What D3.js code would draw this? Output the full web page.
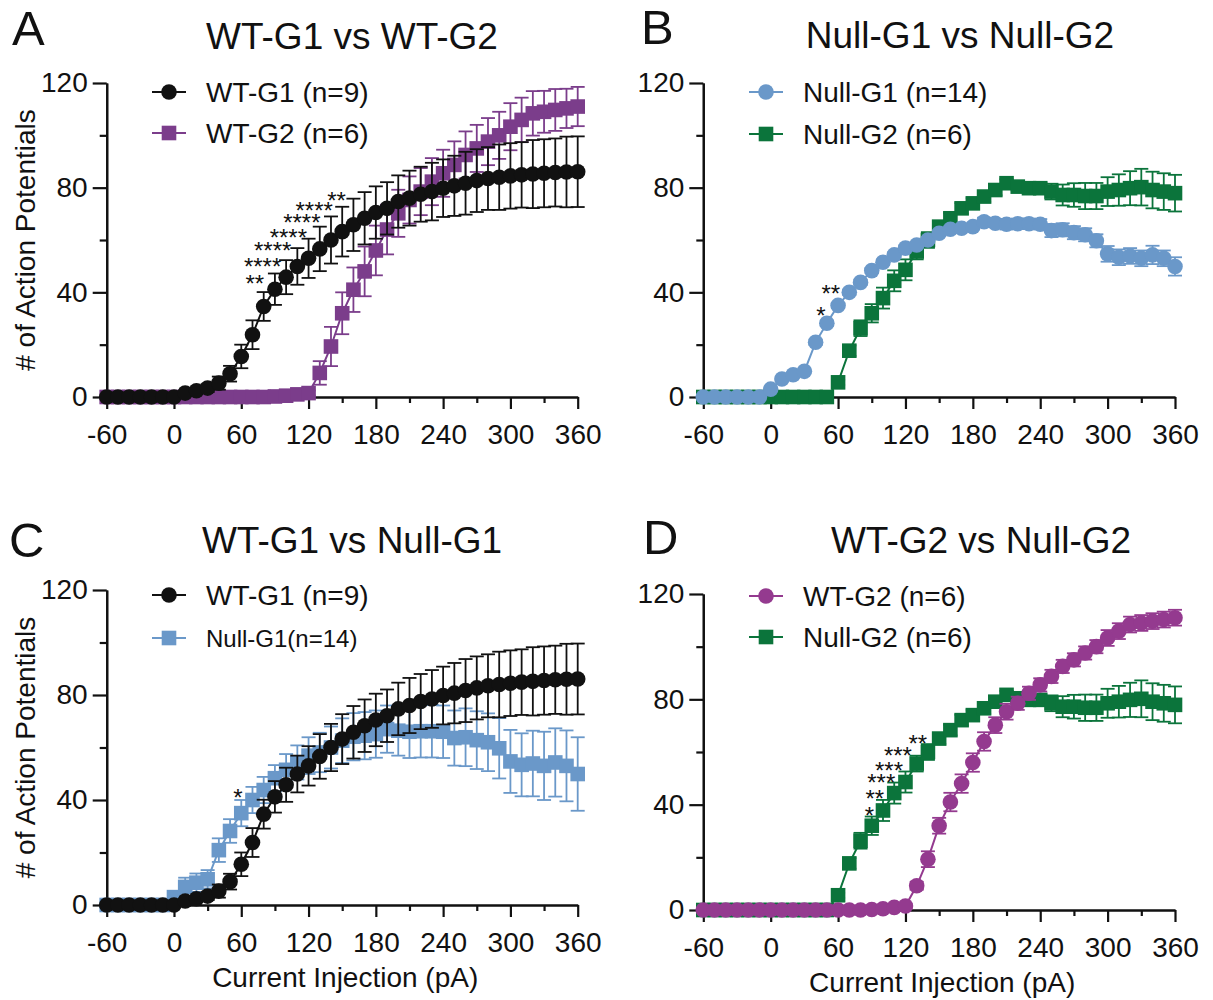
<!DOCTYPE html>
<html>
<head>
<meta charset="utf-8">
<style>
body { margin: 0; background: #fff; }
svg text { font-family: "Liberation Sans", Arial, sans-serif; fill: #111; }
</style>
<title>Action potentials vs current injection</title>
</head>
<body>
<svg width="1213" height="1000"></svg>
<script src="https://d3js.org/d3.v7.min.js"></script>
<script>
// x categories (pA) and axis ticks
var currents = [-60,-50,-40,-30,-20,-10,0,10,20,30,40,50,60,70,80,90,100,110,120,130,140,150,160,170,180,190,200,210,220,230,240,250,260,270,280,290,300,310,320,330,340,350,360];
var xTicks = [-60,0,60,120,180,240,300,360];
var xMinorTicks = [-30,30,90,150,210,270,330];
var yTicks = [0,40,80,120];
var yMinorTicks = [20,60,100];

// WT-G1 (n=9)
var wtG1Mean = [0,0,0,0,0,0,0,1.5,2.4,3.4,5.3,8.9,15.5,23.8,34.6,41.2,45.8,49.9,53,56.6,60,63.2,65.8,68.3,70.5,72.1,74.7,76,77.5,78.5,79.8,80.7,81.7,82.7,83.5,84,84.5,84.9,85.2,85.5,85.8,86,86.1];
var wtG1Sem  = [0,0,0,0,0,0,0,0.5,1,1.5,2.5,3,4.5,5.5,5.5,6,6.5,7,7.5,8.5,9,9.5,10,10,10,10,10,10.5,10.5,11,11,11.5,12,12,12,12.5,12.5,12.5,13,13,13,13.5,13.5];

// WT-G2 (n=6)
var wtG2Mean  = [0,0,0,0,0,0,0,0,0,0,0,0,0,0,0,0.2,0.5,1,1.5,9.2,19.3,32,41,48,56,64,70.2,75.3,78.5,82.3,85.5,88.7,92.5,95,97.6,100,103.3,105.9,108.4,109,109.7,110.3,111];
var wtG2SemA  = [0,0,0,0,0,0,0,0,0,0,0,0,0,0,0,0.2,0.3,0.5,1,4.5,7.5,8,8.5,9.5,9.5,9.5,9,9,9,9,9,9,9,9,9,9,9,8.5,8.5,8,8,7.5,7.5];
var wtG2SemD  = [0,0,0,0,0,0,0,0,0,0,0,0,0,0,0,0.2,0.3,0.5,0.8,1.5,3,3,3.5,3.5,3.5,3.5,3,3,2.5,2.5,2.5,2.5,2.5,2.5,2.5,2.5,3,3,3,3,3,3,3];

// Null-G1 (n=14)
var nullG1Mean = [0,0,0,0,0,0,3,6.9,8.5,9.8,20.9,28.2,35,40,43.8,48.3,51.5,54.3,56.9,58.1,60,62.6,64.1,64.5,65.1,67,66.4,66,66.2,66.2,66,63.6,63.9,62.8,62,59.7,54.7,53.4,53.9,53,54.3,53,49.9];
var nullG1SemB = [0,0,0,0,0,0,0.5,0.5,0.5,0.5,1,1,1,1,1,1,1,1,1,1,1,1,1,1,1,1.5,1.5,2,2,2,2,2.5,2.5,2.5,2.5,2.5,3,3,3,3,3.5,3,3.5];
var nullG1SemC = [0,0,0,0,0,0,2,3.5,3.5,3.5,4.5,4.5,5,5,5,5,6,6.5,7,7.5,8,8.5,9,9,9,9,9.5,10,10,10,10,10.5,11,11,11,11.5,12,12,12.5,13,13,13.5,14];

// Null-G2 (n=6)
var nullG2Mean = [0,0,0,0,0,0,0,0,0,0,0,0,5.6,17.7,26.3,32,37.8,44.4,48.6,55.6,60,65.1,68.3,72.1,74,76.6,79.1,81.7,80.4,79.8,79.8,78.5,77.2,77.2,76.8,76.8,78.5,79.1,79.8,80.2,79.1,78.5,77.9];
var nullG2Sem  = [0,0,0,0,0,0,0,0,0,0,0,0,1,2,3,3.5,4,4,4,3,3,2,2,2,2,2,2,1.5,1.5,2,2,3,4,4.5,5,5,5.5,6,6.5,7,7,7,7];

// significance marks (current, count, label)
var starsA = [[72,45.4,"**"],[79,51.8,"****"],[88,58.1,"****"],[102,63.2,"****"],[114,68.6,"****"],[125,73.2,"****"],[145,77.2,"**"]];
var starsB = [[53.5,41.6,"**"],[44.7,33.3,"*"]];
var starsC = [[57,43.2,"*"]];
var starsD = [[88,38.1,"*"],[92.7,44.4,"**"],[98.5,50.5,"***"],[105.4,55.2,"***"],[113.3,60.7,"***"],[131,65.4,"**"]];

var black = "#111111", purpleA = "#7b3d8b", purpleD = "#943a8f", blue = "#6a98c9", green = "#0b743b";

var svg = d3.select("svg");

var panels = [
  { letter: "A", lx: 12, ly: 45, title: "WT-G1 vs WT-G2", tx: 352, ty: 49,
    left: 106.7, right: 577.7, top: 83, bottom: 397, yTitle: true, xTitle: false,
    series: [
      { name: "WT-G2 (n=6)", mean: wtG2Mean, sem: wtG2SemA, color: purpleA, shape: "square" },
      { name: "WT-G1 (n=9)", mean: wtG1Mean, sem: wtG1Sem, color: black, shape: "circle" }
    ],
    legend: [1, 0], legX: 169, legY: [92, 133], legSize: [28, 28], stars: starsA },
  { letter: "B", lx: 641, ly: 44, title: "Null-G1 vs Null-G2", tx: 960, ty: 48,
    left: 703.3, right: 1175, top: 83, bottom: 397, yTitle: false, xTitle: false,
    series: [
      { name: "Null-G2 (n=6)", mean: nullG2Mean, sem: nullG2Sem, color: green, shape: "square" },
      { name: "Null-G1 (n=14)", mean: nullG1Mean, sem: nullG1SemB, color: blue, shape: "circle" }
    ],
    legend: [1, 0], legX: 766, legY: [92, 134], legSize: [28, 28], stars: starsB },
  { letter: "C", lx: 9, ly: 557, title: "WT-G1 vs Null-G1", tx: 352, ty: 553,
    left: 106.7, right: 577.7, top: 590, bottom: 905, yTitle: true, xTitle: true,
    series: [
      { name: "Null-G1(n=14)", mean: nullG1Mean, sem: nullG1SemC, color: blue, shape: "square" },
      { name: "WT-G1 (n=9)", mean: wtG1Mean, sem: wtG1Sem, color: black, shape: "circle" }
    ],
    legend: [1, 0], legX: 169, legY: [595, 638], legSize: [28, 24], stars: starsC },
  { letter: "D", lx: 643, ly: 554, title: "WT-G2 vs Null-G2", tx: 981, ty: 553,
    left: 703.3, right: 1175, top: 594, bottom: 910, yTitle: false, xTitle: true,
    series: [
      { name: "Null-G2 (n=6)", mean: nullG2Mean, sem: nullG2Sem, color: green, shape: "square" },
      { name: "WT-G2 (n=6)", mean: wtG2Mean, sem: wtG2SemD, color: purpleD, shape: "circle" }
    ],
    legend: [1, 0], legX: 766, legY: [596, 637], legSize: [28, 28], stars: starsD }
];

function marker(sel, shape, color) {
  if (shape === "circle") {
    sel.append("circle").attr("r", 7.8).attr("fill", color);
  } else {
    sel.append("rect").attr("x", -7.3).attr("y", -7.3).attr("width", 14.6).attr("height", 14.6).attr("fill", color);
  }
}

// plain hyphen for negatives, like the original figure
var plain = function(d) { return String(d); };

panels.forEach(function(p) {
  var x = d3.scaleLinear().domain([-60, 360]).range([p.left, p.right]);
  var y = d3.scaleLinear().domain([0, 120]).range([p.bottom, p.top]);
  var g = svg.append("g");

  g.append("text").attr("x", p.lx).attr("y", p.ly).attr("font-size", 49).text(p.letter);
  g.append("text").attr("x", p.tx).attr("y", p.ty).attr("text-anchor", "middle")
    .attr("font-size", 37).text(p.title);

  // axes: minor ticks first, then major with labels
  g.append("g").attr("transform", "translate(0," + p.bottom + ")")
    .call(d3.axisBottom(x).tickValues(xMinorTicks).tickSize(6).tickSizeOuter(0).tickFormat(""));
  g.append("g").attr("transform", "translate(" + p.left + ",0)")
    .call(d3.axisLeft(y).tickValues(yMinorTicks).tickSize(7).tickSizeOuter(0).tickFormat(""));
  var xa = g.append("g").attr("transform", "translate(0," + p.bottom + ")")
    .call(d3.axisBottom(x).tickValues(xTicks).tickSize(12).tickSizeOuter(0).tickPadding(15).tickFormat(plain));
  var ya = g.append("g").attr("transform", "translate(" + p.left + ",0)")
    .call(d3.axisLeft(y).tickValues(yTicks).tickSize(14).tickSizeOuter(0).tickPadding(5).tickFormat(plain));
  [xa, ya].forEach(function(a) {
    a.attr("font-size", 28).attr("font-family", null);
    a.selectAll("text").attr("fill", "#111");
  });
  g.selectAll(".domain, .tick line").attr("stroke", "#111").attr("stroke-width", 2.2);

  if (p.yTitle) {
    g.append("text").attr("transform", "translate(35," + (p.top + p.bottom) / 2 + ") rotate(-90)")
      .attr("text-anchor", "middle").attr("font-size", 28).text("# of Action Potentials");
  }
  if (p.xTitle) {
    g.append("text").attr("x", (p.left + p.right) / 2 + 3).attr("y", p.bottom + 82)
      .attr("text-anchor", "middle").attr("font-size", 28).text("Current Injection (pA)");
  }

  // data series: error bars, connecting line, markers
  p.series.forEach(function(s) {
    var pts = currents.map(function(c, i) { return { x: c, m: s.mean[i], e: s.sem[i] }; });
    var sg = g.append("g");
    var eb = sg.selectAll("g.eb").data(pts.filter(function(d) { return d.e > 0; }))
      .enter().append("g").attr("class", "eb")
      .attr("stroke", s.color).attr("stroke-width", 1.8);
    eb.append("line")
      .attr("x1", function(d) { return x(d.x); }).attr("x2", function(d) { return x(d.x); })
      .attr("y1", function(d) { return y(d.m - d.e); }).attr("y2", function(d) { return y(d.m + d.e); });
    [1, -1].forEach(function(sign) {
      eb.append("line")
        .attr("x1", function(d) { return x(d.x) - 7; }).attr("x2", function(d) { return x(d.x) + 7; })
        .attr("y1", function(d) { return y(d.m + sign * d.e); }).attr("y2", function(d) { return y(d.m + sign * d.e); });
    });
    sg.append("path").datum(pts)
      .attr("fill", "none").attr("stroke", s.color).attr("stroke-width", 2)
      .attr("d", d3.line().x(function(d) { return x(d.x); }).y(function(d) { return y(d.m); }));
    var mk = sg.selectAll("g.mk").data(pts).enter().append("g").attr("class", "mk")
      .attr("transform", function(d) { return "translate(" + x(d.x) + "," + y(d.m) + ")"; });
    marker(mk, s.shape, s.color);
  });

  // significance stars
  g.selectAll("text.star").data(p.stars).enter().append("text").attr("class", "star")
    .attr("x", function(d) { return x(d[0]); })
    .attr("y", function(d) { return y(d[1]) + 14; })
    .attr("text-anchor", "middle").attr("font-size", 24).attr("fill", "#222")
    .text(function(d) { return d[2]; });

  // legend
  p.legend.forEach(function(si, k) {
    var s = p.series[si];
    var lg = g.append("g").attr("transform", "translate(" + p.legX + "," + p.legY[k] + ")");
    lg.append("line").attr("x1", -17).attr("x2", 17).attr("stroke", s.color).attr("stroke-width", 2);
    marker(lg, s.shape, s.color);
    lg.append("text").attr("x", 37).attr("y", p.legSize[k] * 0.36).attr("font-size", p.legSize[k]).text(s.name);
  });
});
</script>
</body>
</html>
